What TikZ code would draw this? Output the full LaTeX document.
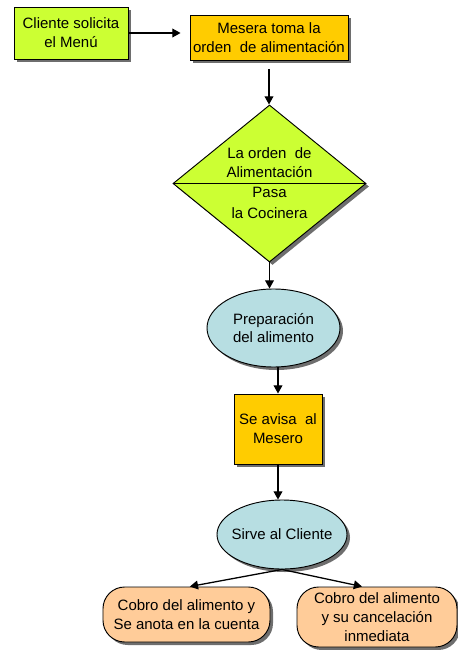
\documentclass[tikz,border=0pt]{standalone}
\usepackage{fontspec}
\setmainfont{Liberation Sans}
\usetikzlibrary{arrows.meta,shapes.geometric,shadows}
\definecolor{Lima}{RGB}{204,255,51}
\definecolor{Naranja}{RGB}{255,204,0}
\definecolor{Celeste}{RGB}{183,222,226}
\definecolor{Durazno}{RGB}{255,204,153}
\definecolor{Sombra}{RGB}{110,110,110}

\begin{document}
\begin{tikzpicture}[x=0.03cm,y=-0.03cm,
  font=\fontsize{12.8}{16}\selectfont,
  sombra/.style={drop shadow={shadow xshift=0.09cm,shadow yshift=-0.09cm,fill=Sombra,opacity=1}},
  caja/.style={draw,thick,sombra,align=center,inner sep=0pt},
  elipse/.style={draw,thick,ellipse,sombra,fill=Celeste,align=center,inner sep=0pt},
  cobro/.style={draw,thick,rounded corners=0.65cm,sombra,fill=Durazno,align=center,inner sep=0pt},
  flecha/.style={-{Triangle[width=7.5pt,length=7pt]},line width=1.1pt}]
\useasboundingbox (0,0) rectangle (458,650);

\node[caja,fill=Lima,minimum width=3.42cm,minimum height=1.56cm] (cliente) at (71,33) {Cliente solicita\\el Menú};

\node[caja,fill=Naranja,minimum width=4.74cm,minimum height=1.35cm] (mesera) at (269,37.5) {Mesera toma la\\orden\ \ de alimentación};

\node[draw,thick,diamond,sombra,fill=Lima,inner sep=0pt,minimum width=5.79cm,minimum height=4.71cm] (orden) at (269.5,183.5) {};
\draw[thick] (orden.west) -- (orden.east);
\node[align=center] (ordenarriba) at (269.5,163) {La orden\ \ de\\Alimentación};
\node[align=center] (ordenabajo) at (269.5,203) {Pasa\\[2pt]la Cocinera};

\node[elipse,minimum width=3.99cm,minimum height=2.34cm] (prep) at (273.5,328) {Preparación\\del alimento};

\node[caja,fill=Naranja,minimum width=2.64cm,minimum height=2.1cm] (avisa) at (278,429) {Se avisa\ \ al\\Mesero};

\node[elipse,inner xsep=-0.3cm,minimum width=3.9cm,minimum height=2.07cm] (sirve) at (282,534.5) {Sirve al Cliente};

\node[cobro,minimum width=5.01cm,minimum height=1.65cm] (cobroA) at (186.5,614.5) {Cobro del alimento y\\Se anota en la cuenta};

\node[cobro,minimum width=4.8cm,minimum height=1.8cm] (cobroB) at (377,617) {Cobro del alimento\\y su cancelación\\inmediata};

\draw[flecha,shorten >=0.27cm] (cliente.east) -- (cliente.east -| mesera.west);
\draw[flecha,shorten <=0.25cm] (mesera.south) -- (mesera.south |- orden.north);
\draw[flecha] (orden.south) -- (orden.south |- prep.north);
\draw[flecha] (prep.south -| avisa.north) -- (avisa.north);
\draw[flecha] (avisa.south) -- (avisa.south |- sirve.north);
\draw[flecha] (sirve.south) -- ([xshift=0.1cm]cobroA.north);
\draw[flecha] (sirve.south) -- ([xshift=-0.45cm]cobroB.north);

\end{tikzpicture}
\end{document}
